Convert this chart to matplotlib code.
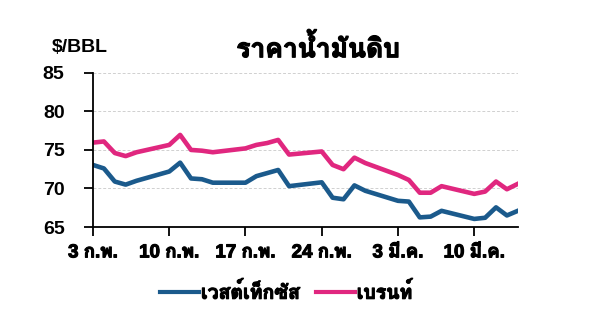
import numpy as np
import pandas as pd
import matplotlib
matplotlib.use("Agg")
import matplotlib.pyplot as plt
import matplotlib.patheffects as pe
from matplotlib import font_manager
from matplotlib.ft2font import FT2Font
from matplotlib.lines import Line2D

# trading days, 3 Feb - 14 Mar
dates = pd.to_datetime([
    "2014-02-03", "2014-02-04", "2014-02-05", "2014-02-06", "2014-02-07",
    "2014-02-10", "2014-02-11", "2014-02-12", "2014-02-13", "2014-02-14",
    "2014-02-17", "2014-02-18", "2014-02-19", "2014-02-20", "2014-02-21",
    "2014-02-24", "2014-02-25", "2014-02-26", "2014-02-27", "2014-02-28",
    "2014-03-03", "2014-03-04", "2014-03-05", "2014-03-06", "2014-03-07",
    "2014-03-10", "2014-03-11", "2014-03-12", "2014-03-13", "2014-03-14",
])
wti = [73.05, 72.6, 70.9, 70.5, 71.0,
       72.2, 73.35, 71.3, 71.2, 70.75,
       70.75, 71.6, 72.0, 72.4, 70.3,
       70.8, 68.8, 68.6, 70.4, 69.7,
       68.4, 68.3, 66.25, 66.35, 67.1,
       66.05, 66.2, 67.55, 66.5, 67.1]
brent = [75.95, 76.1, 74.6, 74.2, 74.7,
         75.65, 76.95, 75.0, 74.9, 74.7,
         75.2, 75.65, 75.9, 76.3, 74.4,
         74.8, 73.05, 72.5, 74.0, 73.3,
         71.75, 71.1, 69.45, 69.45, 70.3,
         69.3, 69.6, 70.9, 69.9, 70.6]

tick_dates = pd.to_datetime(["2014-02-03", "2014-02-10", "2014-02-17",
                             "2014-02-24", "2014-03-03", "2014-03-10"])
tick_labels = ["3 ก.พ.", "10 ก.พ.", "17 ก.พ.", "24 ก.พ.", "3 มี.ค.", "10 มี.ค."]
y_ticks = [65, 70, 75, 80, 85]

series_names = ["เวสต์เท็กซัส", "เบรนท์"]
colors = ["#1b5a8c", "#e0277f"]


def find_thai_font():
    # look for any installed font that has Thai glyphs, bold preferred
    best = None
    for f in font_manager.fontManager.ttflist:
        try:
            cmap = FT2Font(f.fname).get_charmap()
        except Exception:
            continue
        if 0x0E01 in cmap and 0x0E32 in cmap:
            w = f.weight if isinstance(f.weight, int) else 400
            if best is None or abs(w - 700) < abs(best[1] - 700):
                best = (f.fname, w)
    return best[0] if best else None


thai_path = find_thai_font()
if thai_path:
    font_manager.fontManager.addfont(thai_path)
    thai_name = FT2Font(thai_path).family_name
    fam = ["Liberation Sans", thai_name, "DejaVu Sans"]
else:
    fam = ["Liberation Sans", "DejaVu Sans"]
plt.rcParams["font.family"] = ["Liberation Sans", "DejaVu Sans"]

# thai font is not very heavy, thicken it a little
thick = [pe.withStroke(linewidth=0.8, foreground="black")]

fig = plt.figure(figsize=(6, 3.14), dpi=100)
ax = fig.add_axes([0.155, 0.277, 0.708, 0.491])

ax.plot(dates, wti, color=colors[0], lw=3.3)
ax.plot(dates, brent, color=colors[1], lw=3.3)

ax.set_xlim(dates[0], dates[-1])
ax.set_ylim(65, 85)
ax.set_yticks(y_ticks)
ax.set_yticklabels([str(v) for v in y_ticks], fontsize=14, fontweight="bold")
ax.set_xticks(tick_dates)
ax.set_xticklabels(tick_labels, fontsize=13.5, fontweight="bold", family=fam)
for lab in ax.get_xticklabels():
    lab.set_path_effects(thick)
ax.yaxis.grid(True, ls=(0, (3, 2)), color="#d0d0d0", lw=0.7)
ax.set_axisbelow(True)

for s in ["top", "right"]:
    ax.spines[s].set_visible(False)
ax.spines["left"].set_linewidth(1.3)
ax.spines["bottom"].set_linewidth(1.3)
ax.tick_params(axis="both", direction="out", length=6.5, width=1.3)
ax.tick_params(axis="y", pad=14)
ax.tick_params(axis="x", pad=6)

fig.text(0.087, 0.85, "$/BBL", fontsize=14, fontweight="bold", ha="left", va="center")
title = fig.text(0.53, 0.848, "ราคาน้ำมันดิบ", fontsize=19, fontweight="bold",
                 ha="center", va="center", family=fam)
title.set_path_effects([pe.withStroke(linewidth=0.9, foreground="black")])

handles = [Line2D([0], [0], color=c, lw=3) for c in colors]
leg = fig.legend(handles, series_names, loc="center", bbox_to_anchor=(0.477, 0.07),
                 ncol=2, frameon=False, handlelength=2.0, handletextpad=0.1,
                 columnspacing=0.8,
                 prop=font_manager.FontProperties(family=fam, size=14, weight="bold"))
for t in leg.get_texts():
    t.set_path_effects(thick)

fig.savefig("out.png", dpi=100, facecolor="white")
